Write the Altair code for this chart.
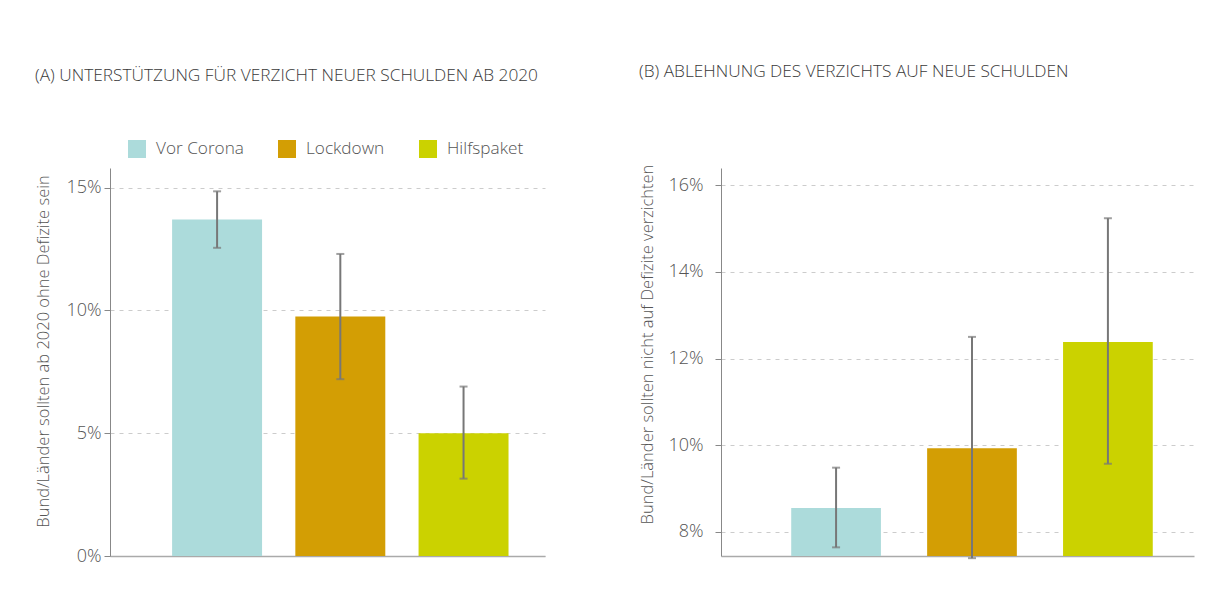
import altair as alt
import pandas as pd

categories = ["Vor Corona", "Lockdown", "Hilfspaket"]
colors = ["#acdbdb", "#d39e04", "#cbd200"]

a_values = [13.7, 9.75, 5.0]
a_low = [12.55, 7.2, 3.15]
a_high = [14.85, 12.3, 6.9]
a_ticks = [0, 5, 10, 15]

b_values = [8.55, 9.93, 12.38]
b_low = [7.64, 7.39, 9.57]
b_high = [9.48, 12.5, 15.24]
b_ticks = [8, 10, 12, 14, 16]

FONT = "Open Sans"
TXT = "#555555"

df_a = pd.DataFrame({"cat": categories, "val": a_values, "lo": a_low, "hi": a_high})
df_b = pd.DataFrame({"cat": categories, "val": b_values, "lo": b_low, "hi": b_high})


def panel(df, title, ytitle, domain, ticks, pad_inner, pad_outer, width,
          show_legend, label_pad, title_x, title_y):
    xenc = alt.X(
        "cat:N",
        sort=categories,
        scale=alt.Scale(paddingInner=pad_inner, paddingOuter=pad_outer, align=0.63),
        axis=alt.Axis(title=None, labels=False, ticks=False, domain=True,
                      domainColor="#aaaaaa", domainWidth=1.5, grid=False),
    )
    yscale = alt.Scale(domain=domain, nice=False, zero=False)
    yaxis = alt.Axis(
        title=ytitle, values=ticks, labelExpr="datum.value + '%'",
        grid=True, gridDash=[4, 5], gridColor="#cccccc", gridWidth=1,
        domainColor="#888888", tickColor="#888888", tickSize=6,
        labelFontSize=18, labelColor=TXT, labelFont=FONT, labelPadding=label_pad,
        labelFontWeight=300,
        titleFontSize=16.5, titleColor=TXT, titleFont=FONT, titleFontWeight=300,
        titleX=title_x, titleY=title_y, titleAngle=270, titleBaseline="bottom",
        titleAlign="center",
    )
    if show_legend:
        legend = alt.Legend(
            title=None, orient="none", legendX=18, legendY=-28, direction="horizontal",
            symbolType="square", symbolSize=324, symbolStrokeWidth=0, symbolOpacity=1,
            labelFontSize=17.2, labelFont=FONT, labelColor=TXT, labelOffset=10,
            labelFontWeight=300, columnPadding=34, padding=0, labelLimit=300,
        )
    else:
        legend = None
    color = alt.Color("cat:N", sort=categories,
                      scale=alt.Scale(domain=categories, range=colors), legend=legend)

    bars = alt.Chart(df).mark_bar(clip=True, opacity=1).encode(
        x=xenc, y=alt.Y("val:Q", scale=yscale, axis=yaxis), color=color
    )
    rules = alt.Chart(df).mark_rule(color="#777777", strokeWidth=2).encode(
        x=alt.X("cat:N", sort=categories), y=alt.Y("lo:Q"), y2="hi:Q"
    )
    caps_hi = alt.Chart(df).mark_tick(color="#777777", thickness=2, size=8, orient="horizontal").encode(
        x=alt.X("cat:N", sort=categories), y=alt.Y("hi:Q")
    )
    caps_lo = alt.Chart(df).mark_tick(color="#777777", thickness=2, size=8, orient="horizontal").encode(
        x=alt.X("cat:N", sort=categories), y=alt.Y("lo:Q")
    )
    return alt.layer(bars, rules, caps_hi, caps_lo).properties(
        width=width, height=388,
        title=alt.TitleParams(title, anchor="start", frame="bounds", fontSize=17.3,
                              font=FONT, color="#3a3a3a", fontWeight=300, offset=84),
    )


pa = panel(df_a, "(A) UNTERSTÜTZUNG FÜR VERZICHT NEUER SCHULDEN AB 2020",
           "Bund/Länder sollten ab 2020 ohne Defizite sein",
           [0, 15.8], a_ticks, 0.27, 0.4, 435, True, 3, -59, 183)
pb = panel(df_b, "(B) ABLEHNUNG DES VERZICHTS AUF NEUE SCHULDEN",
           "Bund/Länder sollten nicht auf Defizite verzichten",
           [7.44, 16.4], b_ticks, 0.34, 0.41, 473, False, 12, -66, 176)

chart = alt.hconcat(pa, pb, spacing=176, bounds="flush").properties(
    padding={"left": 26, "top": 54, "right": 5, "bottom": 5}
).configure(background="white").configure_view(strokeWidth=0, stroke="transparent")

chart.save("out.html", embed_options={"renderer": "svg", "actions": False})
